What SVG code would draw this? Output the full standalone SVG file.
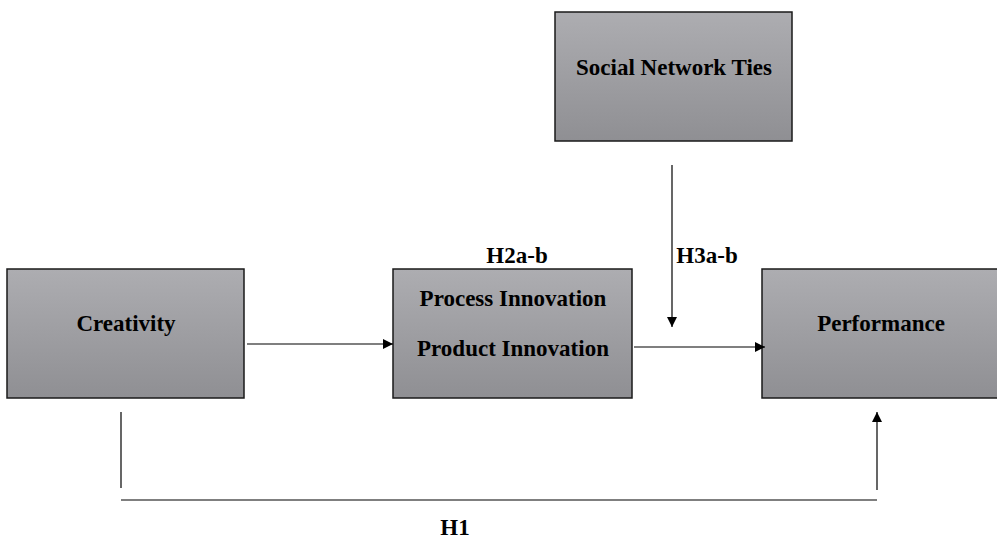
<svg xmlns="http://www.w3.org/2000/svg" width="997" height="541" viewBox="0 0 997 541">
<defs>
<linearGradient id="g" x1="0" y1="0" x2="0" y2="1">
<stop offset="0" stop-color="#adadb1"/>
<stop offset="1" stop-color="#8f8f93"/>
</linearGradient>
<marker id="ah" viewBox="0 0 10 10" refX="10" refY="5" markerWidth="10" markerHeight="10" markerUnits="userSpaceOnUse" orient="auto">
<path d="M0,0 L10,5 L0,10 Z" fill="#000"/>
</marker>
</defs>
<style>
.box{fill:url(#g);stroke:#1a1a1a;stroke-width:1.5}
.t{font-family:"Liberation Serif","Times New Roman",serif;font-weight:bold;font-size:23px;fill:#000;text-anchor:middle}
.c{stroke:#000;stroke-width:1.2;fill:none}
</style>
<rect width="997" height="541" fill="#fff"/>
<g id="social">
<rect class="box" x="555" y="12" width="237" height="129"/>
<text class="t" x="674" y="75">Social Network Ties</text>
</g>
<g id="creativity">
<rect class="box" x="7" y="269" width="237" height="129"/>
<text class="t" x="126" y="331">Creativity</text>
</g>
<g id="innovation">
<rect class="box" x="393" y="269" width="239" height="129"/>
<text class="t" x="513" y="306">Process Innovation</text>
<text class="t" x="513" y="356">Product Innovation</text>
</g>
<g id="performance">
<rect class="box" x="762" y="269" width="240" height="129"/>
<text class="t" x="881" y="331">Performance</text>
</g>
<g id="connectors">
<line class="c" x1="247" y1="344" x2="393" y2="344" marker-end="url(#ah)"/>
<line class="c" x1="634" y1="347" x2="765" y2="347" marker-end="url(#ah)"/>
<line class="c" x1="672" y1="165" x2="672" y2="327" marker-end="url(#ah)"/>
<line class="c" x1="121" y1="412" x2="121" y2="488"/>
<line class="c" x1="121" y1="500" x2="877" y2="500"/>
<line class="c" x1="877" y1="490" x2="877" y2="412" marker-end="url(#ah)"/>
<text class="t" x="517" y="263">H2a-b</text>
<text class="t" x="707" y="263">H3a-b</text>
<text class="t" x="455" y="535">H1</text>
</g>
</svg>
